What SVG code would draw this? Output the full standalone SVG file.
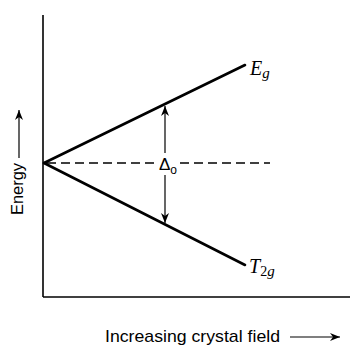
<svg xmlns="http://www.w3.org/2000/svg" width="350" height="345" viewBox="0 0 350 345">
<defs>
<style>
.axis{stroke:#000;stroke-width:1.6;fill:none}
.level{stroke:#000;stroke-width:2.6;fill:none;stroke-linecap:round}
.dash{stroke:#000;stroke-width:1.3;stroke-dasharray:9 5;fill:none}
.dim{stroke:#000;stroke-width:1.2;fill:none}
.lab{font-family:"Liberation Sans Narrow","Liberation Sans",Arial,sans-serif;fill:#000}
.math{font-family:"Liberation Serif","Times New Roman",serif;font-style:italic;fill:#000}
</style>
<marker id="head" viewBox="0 0 10 10" refX="10" refY="5" markerWidth="10" markerHeight="10" markerUnits="userSpaceOnUse" orient="auto">
<path d="M0,1 L10,5 L0,9 L3,5 Z" fill="#000"/>
</marker>
</defs>
<rect width="350" height="345" fill="#fff"/>
<g id="axes">
<line class="axis" x1="43" y1="15" x2="43" y2="297"/>
<line class="axis" x1="43" y1="297" x2="350" y2="297"/>
</g>
<g id="connectors">
<line class="level" x1="44" y1="163" x2="245" y2="65"/>
<line class="level" x1="44" y1="163" x2="245" y2="265"/>
<line class="dash" x1="47" y1="163" x2="157" y2="163"/>
<line class="dash" x1="180" y1="163" x2="270" y2="163"/>
<line class="dim" x1="165" y1="153" x2="165" y2="106" marker-end="url(#head)"/>
<line class="dim" x1="165" y1="175" x2="165" y2="223" marker-end="url(#head)"/>
<line class="dim" x1="19" y1="158" x2="19" y2="110" marker-end="url(#head)"/>
<line class="dim" x1="290" y1="337" x2="340" y2="337" marker-end="url(#head)"/>
</g>
<g id="delta">
<text class="lab" x="159" y="170" font-size="17">Δ<tspan font-size="12" dy="4">o</tspan></text>
</g>
<g id="Eg">
<text class="math" x="250" y="75" font-size="20">E<tspan font-size="15" dy="3">g</tspan></text>
</g>
<g id="T2g">
<text class="math" x="249" y="273" font-size="20">T<tspan font-size="14" dy="3" font-style="normal">2</tspan><tspan font-size="15">g</tspan></text>
</g>
<g id="energy-label">
<text class="lab" font-size="16" transform="translate(23,215) rotate(-90)" textLength="52" lengthAdjust="spacingAndGlyphs">Energy</text>
</g>
<g id="x-label">
<text class="lab" x="105" y="342" font-size="17" textLength="175" lengthAdjust="spacingAndGlyphs">Increasing crystal field</text>
</g>
</svg>
